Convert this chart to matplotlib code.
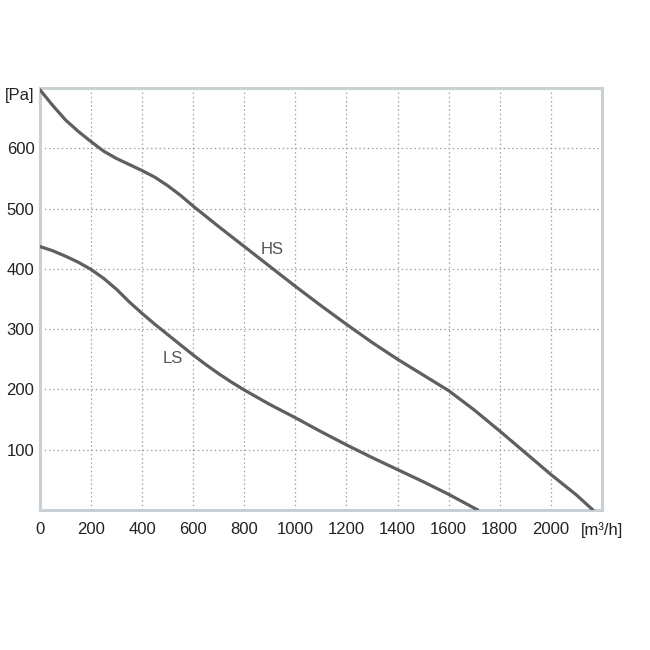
import matplotlib
matplotlib.use("Agg")
import matplotlib.pyplot as plt

plt.rcParams['font.family'] = ['Liberation Sans', 'DejaVu Sans']

hs_x = [0, 50, 100, 150, 200, 250, 300, 350, 400, 450, 500, 550, 600, 700, 800,
        900, 1000, 1100, 1200, 1300, 1400, 1500, 1600, 1700, 1800, 1900, 2000,
        2100, 2165]
hs_y = [697, 671, 647, 628, 611, 595, 583, 573, 563, 552, 538, 522, 504, 470, 437,
        404, 371, 339, 308, 278, 250, 224, 198, 166, 131, 95, 59, 25, 0]

ls_x = [0, 50, 100, 150, 200, 250, 300, 350, 400, 450, 500, 550, 600, 650, 700,
        750, 800, 900, 1000, 1100, 1200, 1300, 1400, 1500, 1600, 1714]
ls_y = [437, 430, 421, 411, 399, 384, 366, 345, 326, 308, 291, 274, 257, 241, 226,
        212, 199, 175, 153, 130, 108, 87, 67, 47, 26, 0]

x_ticks = [0, 200, 400, 600, 800, 1000, 1200, 1400, 1600, 1800, 2000, 2200]
x_labels = ['0', '200', '400', '600', '800', '1000', '1200', '1400', '1600',
            '1800', '2000', '[m³/h]']
y_ticks = [100, 200, 300, 400, 500, 600, 700]
y_labels = ['100', '200', '300', '400', '500', '600', '[Pa]']

fig = plt.figure(figsize=(6.5, 6.5), dpi=100)
ax = fig.add_axes([0.0615, 0.2154, 0.8645, 0.6492])

line_color = '#5f5f5f'
ax.plot(hs_x, hs_y, color=line_color, lw=2.3, solid_capstyle='round',
        solid_joinstyle='round', zorder=3)
ax.plot(ls_x, ls_y, color=line_color, lw=2.3, solid_capstyle='round',
        solid_joinstyle='round', zorder=3)

ax.text(910, 432, 'HS', fontsize=12, color='#555555', ha='center', va='center')
ax.text(520, 251, 'LS', fontsize=12, color='#555555', ha='center', va='center')

ax.set_xlim(0, 2200)
ax.set_ylim(0, 700)
ax.set_xticks(x_ticks)
ax.set_xticklabels(x_labels)
ax.set_yticks(y_ticks)
ax.set_yticklabels(y_labels)
ax.tick_params(axis='both', length=0, labelsize=12, labelcolor='#222222')
ax.tick_params(axis='x', pad=9)
ax.tick_params(axis='y', pad=4)
ax.get_yticklabels()[-1].set_verticalalignment('top')

ax.grid(True, linestyle=(0, (1.2, 2.2)), color='#a0a0a0', lw=0.9)
ax.set_axisbelow(True)
for sp in ax.spines.values():
    sp.set_color('#c8d0d4')
    sp.set_linewidth(2.2)

fig.savefig('out.png', dpi=100)
